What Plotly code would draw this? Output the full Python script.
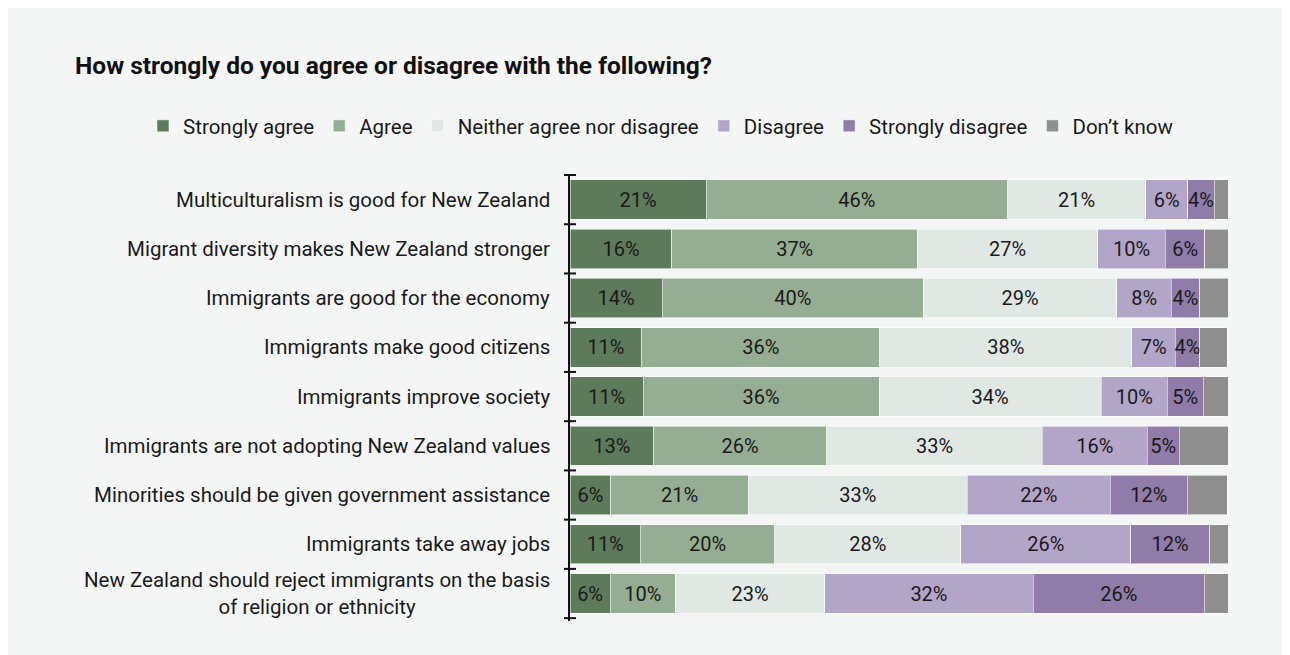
import plotly.graph_objects as go

categories = [
    "Multiculturalism is good for New Zealand",
    "Migrant diversity makes New Zealand stronger",
    "Immigrants are good for the economy",
    "Immigrants make good citizens",
    "Immigrants improve society",
    "Immigrants are not adopting New Zealand values",
    "Minorities should be given government assistance",
    "Immigrants take away jobs",
    "New Zealand should reject immigrants on the basis<br>of religion or ethnicity",
]

strongly_agree = [20.7, 15.5, 14.0, 10.9, 11.1, 12.7, 6.2, 10.7, 6.1]
agree = [45.8, 37.3, 39.7, 36.2, 35.9, 26.3, 20.9, 20.4, 9.9]
neither = [21.0, 27.4, 29.4, 38.3, 33.7, 32.8, 33.3, 28.3, 22.7]
disagree = [6.4, 10.3, 8.3, 6.6, 10.1, 15.9, 21.7, 25.8, 31.7]
strongly_disagree = [4.0, 6.0, 4.3, 3.7, 5.4, 4.9, 11.7, 12.0, 26.0]
dont_know = [2.2, 3.5, 4.3, 4.2, 3.8, 7.4, 6.1, 2.8, 3.7]

series_names = ["Strongly agree", "Agree", "Neither agree nor disagree",
                "Disagree", "Strongly disagree", "Don\u2019t know"]
series_values = [strongly_agree, agree, neither, disagree, strongly_disagree, dont_know]
series_colors = ["#5d7a5a", "#95ad92", "#e0e8e4", "#b2a6c8", "#8f7ca8", "#8f8f8f"]
series_labelled = [True, True, True, True, True, False]

title_text = "How strongly do you agree or disagree with the following?"
FONT = "Roboto, 'Noto Sans', sans-serif"

fig = go.Figure()
for name, vals, col, lab in zip(series_names, series_values, series_colors, series_labelled):
    fig.add_trace(go.Bar(
        y=categories, x=vals, name=name, orientation="h",
        marker=dict(color=col, line=dict(color="rgba(255,255,255,0.55)", width=1)),
        texttemplate="%{x:.0f}%" if lab else None,
        textposition="inside" if lab else "none",
        insidetextanchor="middle",
        textangle=0,
        textfont=dict(family=FONT, size=20, color="#1a1a1a"),
        hoverinfo="skip",
    ))

# category labels as annotations (centered multi-line)
for c in categories:
    fig.add_annotation(
        x=0, xref="paper", y=c, yref="y", text=c, showarrow=False,
        xanchor="right", yanchor="middle", align="center", xshift=-18,
        font=dict(family=FONT, size=20.5, color="#1a1a1a"),
    )

# crossing tick marks at category boundaries
n = len(categories)
for i in range(n + 1):
    fig.add_shape(type="line", xref="paper", yref="y", xsizemode="pixel",
                  xanchor=0, x0=-6, x1=6, y0=i - 0.5, y1=i - 0.5,
                  line=dict(color="#111111", width=2))

plot_w = 1290 - 562 - 70
plot_h = 655 - 166 - 42

fig.update_layout(
    barmode="stack",
    bargap=0.2,
    width=1290, height=655,
    margin=dict(l=562, r=70, t=166, b=42),
    paper_bgcolor="#f4f6f5",
    plot_bgcolor="rgba(0,0,0,0)",
    font=dict(family=FONT, size=20, color="#1a1a1a"),
    uniformtext=dict(minsize=20, mode="show"),
    title=dict(text="<b>" + title_text + "</b>", x=67 / 1290, xanchor="left",
               xref="container", yref="container", y=1 - 57 / 655, yanchor="middle",
               font=dict(family=FONT, size=24.5, color="#111111")),
    legend=dict(orientation="h", x=(135 - 562) / plot_w, xanchor="left",
                y=(613 - 118) / plot_h, yanchor="middle",
                xref="paper", yref="paper",
                font=dict(family=FONT, size=20.5, color="#1a1a1a"),
                bgcolor="rgba(0,0,0,0)", traceorder="normal", itemclick=False),
    xaxis=dict(range=[0, 100], visible=False, fixedrange=True),
    yaxis=dict(autorange="reversed", showticklabels=False, ticks="",
               showline=True, linecolor="#111111", linewidth=2,
               showgrid=False, zeroline=False, fixedrange=True),
    showlegend=True,
)

fig.write_html("out.html")
